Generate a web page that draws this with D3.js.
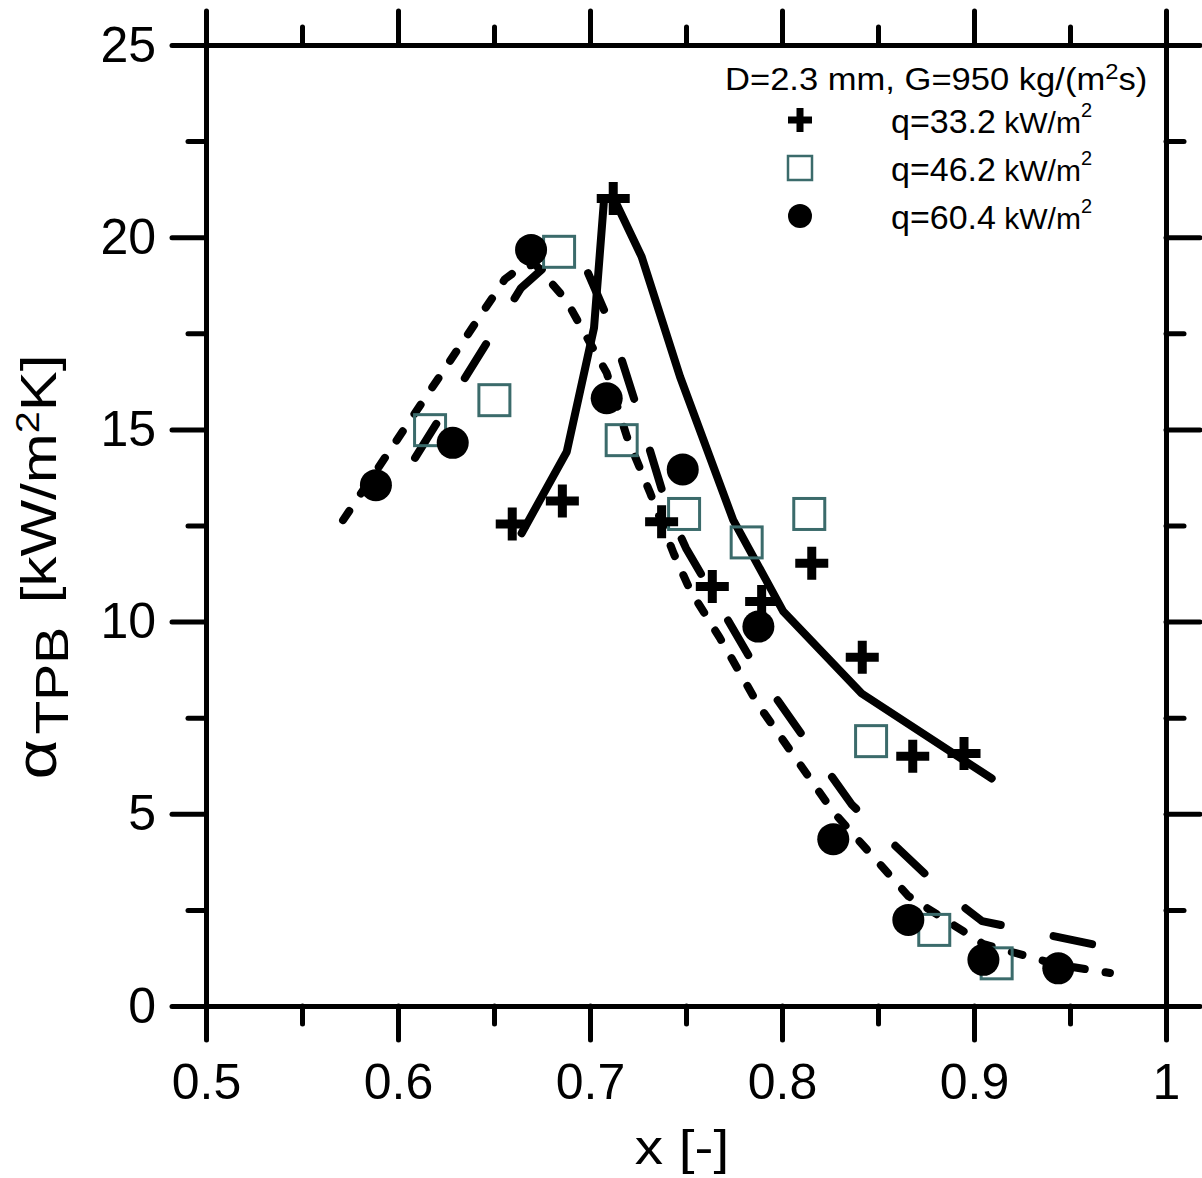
<!DOCTYPE html>
<html>
<head>
<meta charset="utf-8">
<script src="https://cdn.jsdelivr.net/npm/d3@7"></script>
<style>
  html, body { margin: 0; padding: 0; background: #fff; }
  svg text { font-family: "Liberation Sans", Arial, Helvetica, sans-serif; fill: #000; }
</style>
</head>
<body>
<svg id="chart" width="1202" height="1178"></svg>
<script>
// Measured two-phase boiling heat transfer coefficient (kW/m²K) against vapour quality x
const crossX = [0.6595, 0.6856, 0.7121, 0.7373, 0.7637, 0.7894, 0.8155, 0.8418, 0.8681, 0.8948];
const crossY = [12.54, 13.14, 21.01, 12.60, 10.91, 10.52, 11.52, 9.07, 6.50, 6.57];

const squareX = [0.6167, 0.6502, 0.6839, 0.7165, 0.7490, 0.7816, 0.8142, 0.8464, 0.8793, 0.9118];
const squareY = [14.98, 15.76, 19.62, 14.72, 12.80, 12.06, 12.80, 6.89, 1.98, 1.11];

const circleX = [0.5885, 0.6285, 0.6693, 0.7087, 0.7483, 0.7877, 0.8267, 0.8658, 0.9049, 0.9439];
const circleY = [13.55, 14.65, 19.67, 15.81, 13.96, 9.87, 4.34, 2.24, 1.20, 0.98];

// Model predictions
const solidX = [0.6644, 0.6879, 0.7021, 0.7073, 0.7120, 0.7269, 0.7469, 0.7746, 0.8007, 0.8415, 0.9092];
const solidY = [12.30, 14.42, 17.64, 20.97, 21.05, 19.49, 16.37, 12.64, 10.26, 8.13, 5.92];

const longDashX = [0.6089, 0.6641, 0.6792, 0.6974, 0.7109, 0.7255, 0.7401, 0.7500, 0.7885, 0.8167, 0.8365, 0.8844, 0.9042, 0.9615];
const longDashY = [14.26, 18.68, 19.35, 19.25, 17.69, 15.40, 12.99, 11.91, 8.61, 6.61, 5.23, 2.97, 2.21, 1.61];

const shortDashX = [0.5714, 0.6557, 0.6635, 0.6714, 0.6875, 0.7087, 0.7193, 0.7313, 0.7435, 0.7521, 0.7677, 0.7877, 0.8267, 0.8658, 0.9049, 0.9439, 0.9708];
const shortDashY = [12.64, 18.91, 19.20, 19.30, 18.37, 16.47, 14.80, 13.35, 11.78, 10.82, 9.57, 7.83, 5.05, 2.86, 1.61, 1.07, 0.86];

const xTicks = [0.5, 0.6, 0.7, 0.8, 0.9, 1.0];
const xTickLabels = ["0.5", "0.6", "0.7", "0.8", "0.9", "1"];
const xMinor = [0.55, 0.65, 0.75, 0.85, 0.95];
const yTicks = [0, 5, 10, 15, 20, 25];
const yTickLabels = ["0", "5", "10", "15", "20", "25"];
const yMinor = [2.5, 7.5, 12.5, 17.5, 22.5];

const legendLabels = ["q=33.2", "q=46.2", "q=60.4"];
const legendUnitGap = [" ", " ", "  "];

const squareColor = "#3b6b6b";

const svg = d3.select("#chart");
const pLeft = 206, pRight = 1166, pTop = 45, pBottom = 1006;
const x = d3.scaleLinear().domain([0.5, 1.0]).range([pLeft, pRight]);
const y = d3.scaleLinear().domain([0, 25]).range([pBottom, pTop]);

// ---- axes (all ticks point outward) ----
const MAJ = 34, MIN = 18, AXW = 5;
function styleAxis(g) {
  g.select(".domain").attr("stroke", "#000").attr("stroke-width", AXW).attr("stroke-linecap", "round");
  g.selectAll(".tick line").attr("stroke", "#000").attr("stroke-width", AXW).attr("stroke-linecap", "round");
  g.selectAll(".tick text").attr("font-size", 50).attr("font-family", "Liberation Sans, Arial, sans-serif").attr("fill", "#000");
}
const fmtX = d => xTickLabels[xTicks.indexOf(d)];
const fmtY = d => yTickLabels[yTicks.indexOf(d)];

// bottom
svg.append("g").attr("transform", `translate(0,${pBottom})`)
  .call(d3.axisBottom(x).tickValues(xTicks).tickFormat(fmtX).tickSize(MAJ).tickSizeOuter(0).tickPadding(23))
  .call(styleAxis);
svg.append("g").attr("transform", `translate(0,${pBottom})`)
  .call(d3.axisBottom(x).tickValues(xMinor).tickFormat("").tickSize(MIN).tickSizeOuter(0))
  .call(styleAxis);
// top
svg.append("g").attr("transform", `translate(0,${pTop})`)
  .call(d3.axisTop(x).tickValues(xTicks).tickFormat("").tickSize(MAJ).tickSizeOuter(0))
  .call(styleAxis);
svg.append("g").attr("transform", `translate(0,${pTop})`)
  .call(d3.axisTop(x).tickValues(xMinor).tickFormat("").tickSize(MIN).tickSizeOuter(0))
  .call(styleAxis);
// left
svg.append("g").attr("transform", `translate(${pLeft},0)`)
  .call(d3.axisLeft(y).tickValues(yTicks).tickFormat(fmtY).tickSize(MAJ).tickSizeOuter(0).tickPadding(16))
  .call(styleAxis);
svg.append("g").attr("transform", `translate(${pLeft},0)`)
  .call(d3.axisLeft(y).tickValues(yMinor).tickFormat("").tickSize(MIN).tickSizeOuter(0))
  .call(styleAxis);
// right
svg.append("g").attr("transform", `translate(${pRight},0)`)
  .call(d3.axisRight(y).tickValues(yTicks).tickFormat("").tickSize(MAJ).tickSizeOuter(0))
  .call(styleAxis);
svg.append("g").attr("transform", `translate(${pRight},0)`)
  .call(d3.axisRight(y).tickValues(yMinor).tickFormat("").tickSize(MIN).tickSizeOuter(0))
  .call(styleAxis);

// ---- axis titles ----
svg.append("text").attr("transform", "translate(682,1164) scale(1.18,1)").attr("text-anchor", "middle")
  .attr("font-size", 48).text("x [-]");

const yt = svg.append("text").attr("transform", "translate(56,567) rotate(-90) scale(1.2,1)")
  .attr("text-anchor", "middle").attr("font-size", 50);
yt.append("tspan").attr("font-size", 58).text("α");
yt.append("tspan").attr("font-size", 46).attr("dx", 4).attr("dy", 12).text("TPB");
yt.append("tspan").attr("dx", 6).attr("dy", -12).text(" [kW/m");
yt.append("tspan").attr("font-size", 33).attr("dy", -17).text("2");
yt.append("tspan").attr("dy", 17).text("K]");

// ---- model lines ----
const line = d3.line().x(d => x(d[0])).y(d => y(d[1]));
const plot = svg.append("g");
plot.append("path").datum(d3.zip(longDashX, longDashY)).attr("d", line)
  .attr("fill", "none").attr("stroke", "#000").attr("stroke-width", 8)
  .attr("stroke-linecap", "round").attr("stroke-linejoin", "round").attr("stroke-dasharray", "40,54");
plot.append("path").datum(d3.zip(shortDashX, shortDashY)).attr("d", line)
  .attr("fill", "none").attr("stroke", "#000").attr("stroke-width", 8)
  .attr("stroke-linecap", "round").attr("stroke-linejoin", "round").attr("stroke-dasharray", "11,21");
plot.append("path").datum(d3.zip(solidX, solidY)).attr("d", line)
  .attr("fill", "none").attr("stroke", "#000").attr("stroke-width", 8)
  .attr("stroke-linecap", "round").attr("stroke-linejoin", "round");

// ---- measured points ----
function crossPath(s, t) {
  const h = s / 2, w = t / 2;
  return `M${-w},${-h}H${w}V${-w}H${h}V${w}H${w}V${h}H${-w}V${w}H${-h}V${-w}H${-w}Z`;
}
plot.selectAll(".sq").data(d3.zip(squareX, squareY)).join("rect")
  .attr("x", d => x(d[0]) - 15.5).attr("y", d => y(d[1]) - 15.5)
  .attr("width", 31).attr("height", 31)
  .attr("fill", "none").attr("stroke", squareColor).attr("stroke-width", 3);
plot.selectAll(".cr").data(d3.zip(crossX, crossY)).join("path")
  .attr("transform", d => `translate(${x(d[0])},${y(d[1])})`)
  .attr("d", crossPath(33, 9)).attr("fill", "#000");
plot.selectAll(".ci").data(d3.zip(circleX, circleY)).join("circle")
  .attr("cx", d => x(d[0])).attr("cy", d => y(d[1])).attr("r", 16).attr("fill", "#000");

// ---- legend ----
const lg = svg.append("g");
lg.append("text").attr("transform", "translate(725,90) scale(1.08,1)").attr("font-size", 32)
  .call(t => {
    t.append("tspan").text("D=2.3 mm, G=950 kg/(m");
    t.append("tspan").attr("font-size", 22).attr("dy", -11).text("2");
    t.append("tspan").attr("dy", 11).text("s)");
  });
const rowY = [120, 168, 216];
lg.append("path").attr("transform", `translate(800,${rowY[0]})`).attr("d", crossPath(24, 7)).attr("fill", "#000");
lg.append("rect").attr("x", 800 - 12).attr("y", rowY[1] - 12).attr("width", 24).attr("height", 24)
  .attr("fill", "none").attr("stroke", squareColor).attr("stroke-width", 2.5);
lg.append("circle").attr("cx", 800).attr("cy", rowY[2]).attr("r", 12).attr("fill", "#000");
legendLabels.forEach((lab, i) => {
  const t = lg.append("text").attr("x", 891).attr("y", rowY[i] + 13).attr("font-size", 34);
  t.append("tspan").text(lab);
  t.append("tspan").attr("font-size", 30).text(legendUnitGap[i] + "kW/m");
  t.append("tspan").attr("font-size", 20).attr("dy", -16).text("2");
});
</script>
</body>
</html>
